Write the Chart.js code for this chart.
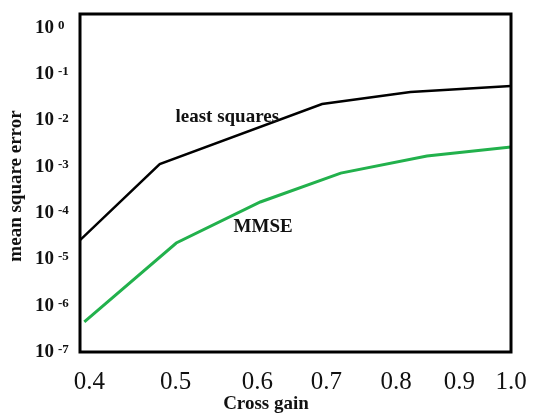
<!DOCTYPE html>
<html>
<head>
<meta charset="utf-8">
<script src="https://cdn.jsdelivr.net/npm/chart.js@4"></script>
<style>
  html, body { margin: 0; padding: 0; background: #fff; }
  #wrap { width: 534px; height: 414px; }
</style>
</head>
<body>
<div id="wrap"><canvas id="mseChart"></canvas></div>
<script>
// cross gain vs mean square error
const lsGain = [0.4, 0.511, 0.737, 0.86, 1.0];
const lsMse = [2.6e-5, 1.15e-3, 0.0227, 0.0412, 0.0556];

const mmseGain = [0.406, 0.534, 0.651, 0.763, 0.883, 1.0];
const mmseMse = [4.45e-7, 2.26e-5, 1.74e-4, 7.3e-4, 1.71e-3, 2.68e-3];

// x labels are not evenly placed in the original figure
const xTickLabels = ["0.4", "0.5", "0.6", "0.7", "0.8", "0.9", "1.0"];
const xTickAt = [0.413, 0.533, 0.647, 0.743, 0.84, 0.928, 1.0];

const yExponents = [0, -1, -2, -3, -4, -5, -6, -7];

const curveNotes = [
  { text: "least squares", x: 0.605, y: 0.0119 },
  { text: "MMSE", x: 0.655, y: 5e-5 },
];

const SERIF = "'Liberation Serif', 'Times New Roman', serif";

/* ===== frame, log tick labels, titles ===== */
const decorPlugin = {
  id: "decor",
  afterDraw(chart) {
    const { ctx, chartArea: a, scales } = chart;
    ctx.save();
    ctx.fillStyle = "#111";

    // y tick labels as 10 with raised exponent
    yExponents.forEach((k) => {
      const py = scales.y.getPixelForValue(Math.pow(10, k));
      ctx.font = "bold 19px " + SERIF;
      ctx.textAlign = "right";
      ctx.textBaseline = "middle";
      ctx.fillText("10", 54, py);
      ctx.font = "bold 13px " + SERIF;
      ctx.textAlign = "left";
      ctx.textBaseline = "alphabetic";
      ctx.fillText(String(k), 58, py + 1);
    });

    // curve names
    ctx.font = "bold 19px " + SERIF;
    ctx.textAlign = "center";
    ctx.textBaseline = "middle";
    curveNotes.forEach((n) => {
      ctx.fillText(n.text, scales.x.getPixelForValue(n.x), scales.y.getPixelForValue(n.y));
    });

    // axis titles
    ctx.fillText("Cross gain", 266, 404);
    ctx.translate(16, 186);
    ctx.rotate(-Math.PI / 2);
    ctx.fillText("mean square error", 0, 0);
    ctx.restore();

    // plot box
    ctx.save();
    ctx.strokeStyle = "#000";
    ctx.lineWidth = 3;
    ctx.strokeRect(a.left, a.top, a.right - a.left, a.bottom - a.top);
    ctx.restore();
  },
};

const chart = new Chart(document.getElementById("mseChart").getContext("2d"), {
  type: "line",
  data: {
    datasets: [
      {
        label: "least squares",
        data: lsGain.map((g, i) => ({ x: g, y: lsMse[i] })),
        borderColor: "#000",
        borderWidth: 2.5,
        pointRadius: 0,
        tension: 0,
      },
      {
        label: "MMSE",
        data: mmseGain.map((g, i) => ({ x: g, y: mmseMse[i] })),
        borderColor: "#22b14c",
        borderWidth: 3,
        pointRadius: 0,
        tension: 0,
      },
    ],
  },
  options: {
    responsive: true,
    maintainAspectRatio: false,
    animation: false,
    layout: { padding: { top: 14, right: 23, left: 0, bottom: 0 } },
    plugins: {
      legend: { display: false },
      tooltip: { enabled: false },
    },
    scales: {
      x: {
        type: "linear",
        min: 0.4,
        max: 1.0,
        grid: { display: false },
        border: { display: false },
        afterBuildTicks: (s) => {
          s.ticks = xTickAt.map((v) => ({ value: v }));
        },
        afterFit: (s) => {
          s.height = 62;
        },
        ticks: {
          autoSkip: false,
          maxRotation: 0,
          padding: 7,
          color: "#111",
          font: { family: SERIF, size: 25 },
          callback: (v, i) => xTickLabels[i],
        },
      },
      y: {
        type: "logarithmic",
        min: 1e-7,
        max: 2.0,
        grid: { display: false },
        border: { display: false },
        ticks: { display: false },
        afterFit: (s) => {
          s.width = 80;
        },
      },
    },
  },
  plugins: [decorPlugin],
});
</script>
</body>
</html>
